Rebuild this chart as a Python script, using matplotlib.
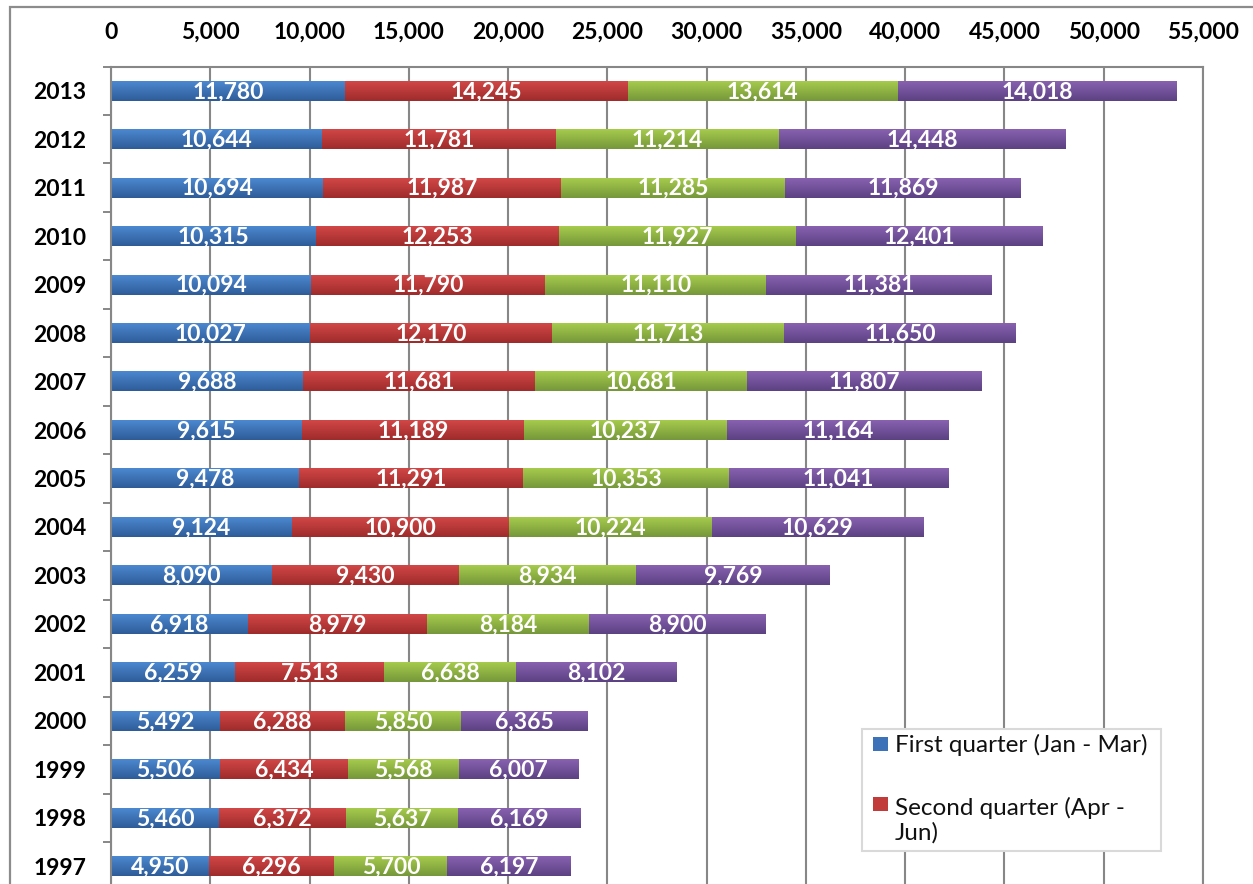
import matplotlib
matplotlib.use("Agg")
import matplotlib.pyplot as plt
import numpy as np
from matplotlib.patches import Rectangle
from matplotlib.colors import LinearSegmentedColormap
from matplotlib.ticker import FuncFormatter, FixedLocator

plt.rcParams['font.family'] = ['Lato', 'DejaVu Sans']

years = [1997, 1998, 1999, 2000, 2001, 2002, 2003, 2004, 2005, 2006, 2007, 2008, 2009, 2010, 2011, 2012, 2013]
q1 = [4950, 5460, 5506, 5492, 6259, 6918, 8090, 9124, 9478, 9615, 9688, 10027, 10094, 10315, 10694, 10644, 11780]
q2 = [6296, 6372, 6434, 6288, 7513, 8979, 9430, 10900, 11291, 11189, 11681, 12170, 11790, 12253, 11987, 11781, 14245]
q3 = [5700, 5637, 5568, 5850, 6638, 8184, 8934, 10224, 10353, 10237, 10681, 11713, 11110, 11927, 11285, 11214, 13614]
q4 = [6197, 6169, 6007, 6365, 8102, 8900, 9769, 10629, 11041, 11164, 11807, 11650, 11381, 12401, 11869, 14448, 14018]
series_names = ["First quarter (Jan - Mar)", "Second quarter (Apr -\nJun)",
                "Third quarter (Jul - Sep)", "Fourth quarter (Oct - Dec)"]
x_ticks = list(range(0, 55001, 5000))

top_colors = ["#4C88D0", "#D24747", "#A6CB4C", "#8862B0"]
bot_colors = ["#2E5C98", "#9E2B2B", "#76973A", "#5C4183"]
mid_colors = ["#3D72B8", "#C03B3A", "#8FB244", "#7452A0"]

W, H = 1253, 884
fig = plt.figure(figsize=(W / 100, H / 100), dpi=100)

# outer chart frame
fig.patches.append(Rectangle((10 / W, -0.1), 1.2, 1 - 7 / H + 0.1, transform=fig.transFigure,
                             fill=False, edgecolor="#8C8C8C", linewidth=1.6, zorder=0))

left, right = 111 / W, 1203 / W
top = 1 - 66.5 / H
bottom = 1 - 890.5 / H
ax = fig.add_axes([left, bottom, right - left, top - bottom])

ypos = np.arange(len(years))
bh = 0.41
data = [q1, q2, q3, q4]
cum = np.zeros(len(years))
for s, vals in enumerate(data):
    vals = np.array(vals, dtype=float)
    bars = ax.barh(ypos, vals, left=cum, height=bh, color=mid_colors[s], zorder=2,
                   label=series_names[s], linewidth=0)
    cmap = LinearSegmentedColormap.from_list("g%d" % s, [bot_colors[s], top_colors[s]])
    grad = np.linspace(0, 1, 64).reshape(-1, 1)
    for b in bars:
        x0, y0, w, h = b.get_x(), b.get_y(), b.get_width(), b.get_height()
        ax.imshow(grad, cmap=cmap, origin="lower", aspect="auto",
                  extent=(x0, x0 + w, y0, y0 + h), zorder=2.5, interpolation="bilinear")
    for i, (c, v) in enumerate(zip(cum, vals)):
        ax.text(c + v / 2, ypos[i] - 0.02, f"{int(v):,}", ha="center", va="center",
                color="white", fontsize=16.5, fontweight="bold", zorder=4)
    cum += vals

ax.set_xlim(0, 55000)
ax.set_ylim(-0.5, len(years) - 0.5)
ax.xaxis.set_major_locator(FixedLocator(x_ticks))
ax.xaxis.set_major_formatter(FuncFormatter(lambda v, p: f"{int(v):,}"))
ax.xaxis.tick_top()
ax.tick_params(axis="x", length=0, pad=17, labelsize=16.5, labelcolor="black")
for lab in ax.get_xticklabels():
    lab.set_fontweight("bold")
ax.set_yticks(ypos)
ax.set_yticklabels([str(y) for y in years], fontsize=16.5, fontweight="bold")
ax.tick_params(axis="y", which="major", length=0, pad=18)
ax.yaxis.set_minor_locator(FixedLocator(np.arange(-0.5, len(years), 1.0)))
ax.tick_params(axis="y", which="minor", length=6, width=1.4, color="#878787")
ax.grid(axis="x", color="#878787", linewidth=1.5, zorder=1)
ax.set_axisbelow(True)
for sp in ax.spines.values():
    sp.set_color("#878787")
    sp.set_linewidth(1.5)

# legend (as shown, partially visible)
lx0, ly0, lx1, ly1 = 862, 729, 1161, 851
fig.patches.append(Rectangle((lx0 / W, 1 - ly1 / H), (lx1 - lx0) / W, (ly1 - ly0) / H,
                             transform=fig.transFigure, facecolor="white",
                             edgecolor="#D9D9D9", linewidth=1.5, zorder=5))
# entry 1
fig.patches.append(Rectangle((873 / W, 1 - 751 / H), 15 / W, 14 / H, transform=fig.transFigure,
                             facecolor=mid_colors[0], edgecolor="none", zorder=6))
fig.text(895 / W, 1 - 745 / H, series_names[0], ha="left", va="center",
         fontsize=17.5, color="#111111", zorder=7)
# entry 2
fig.patches.append(Rectangle((873 / W, 1 - 811 / H), 15 / W, 14 / H, transform=fig.transFigure,
                             facecolor=mid_colors[1], edgecolor="none", zorder=6))
fig.text(895 / W, 1 - 820 / H, series_names[1], ha="left", va="center",
         fontsize=17.5, color="#111111", zorder=7, linespacing=1.15)

fig.savefig("out.png", dpi=100)
